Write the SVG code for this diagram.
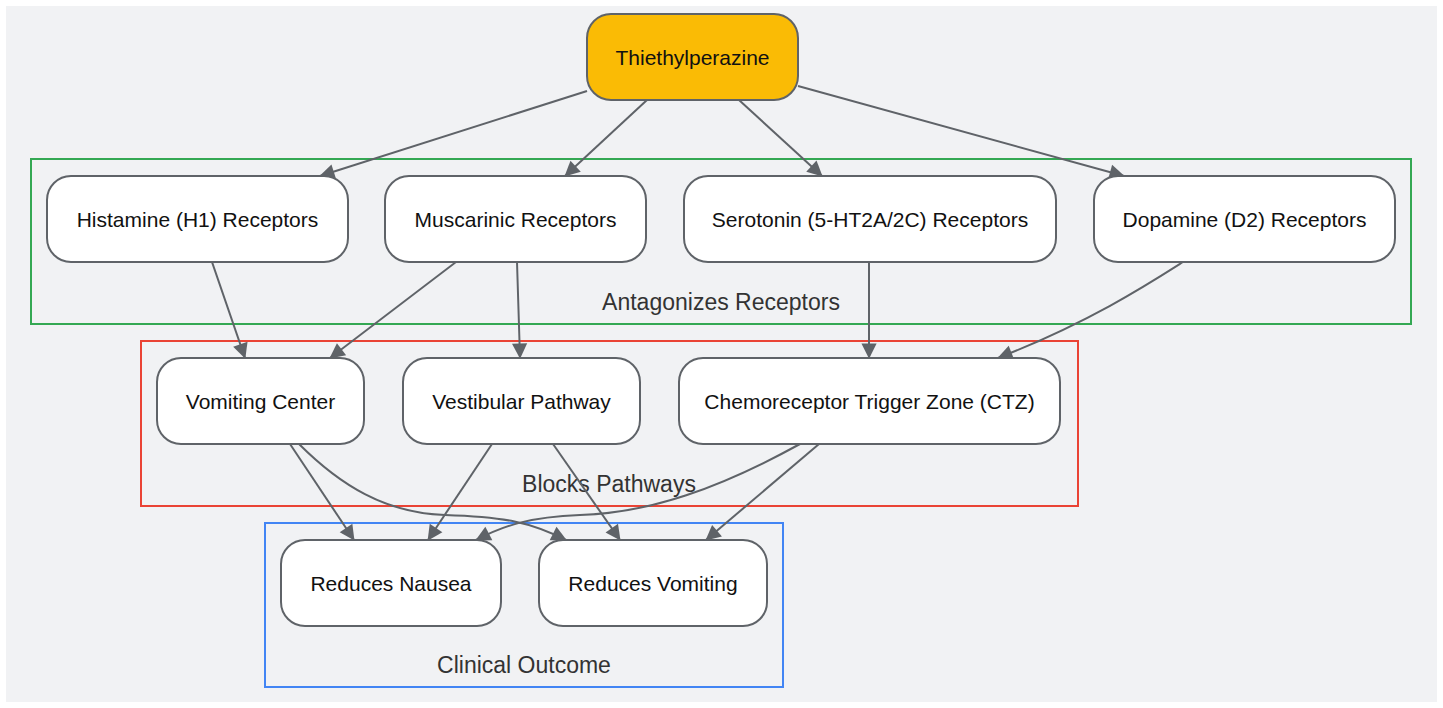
<svg xmlns="http://www.w3.org/2000/svg" width="1443" height="708" viewBox="0 0 1443 708">
<defs>
<style>
.node rect{fill:#ffffff;stroke:#5f6368;stroke-width:2}
.node text{font-family:"Liberation Sans",Arial,sans-serif;font-size:21px;fill:#111;text-anchor:middle;dominant-baseline:central}
.cl{fill:none;stroke-width:2}
.cltext{font-family:"Liberation Sans",Arial,sans-serif;font-size:23px;fill:#333;text-anchor:middle}
.edge{fill:none;stroke:#5f6368;stroke-width:2;marker-end:url(#arr)}
</style>
<marker id="arr" viewBox="0 0 10 10" refX="9.5" refY="5" markerWidth="8" markerHeight="8" markerUnits="userSpaceOnUse" orient="auto" overflow="visible">
<path d="M0,0 L10,5 L0,10 z" fill="#5f6368" transform="scale(1.9)translate(-4.5,-2.4)"/>
</marker>
</defs>
<rect x="0" y="0" width="1443" height="708" fill="#ffffff"/>
<rect x="6" y="6" width="1431" height="696" fill="#f1f2f4"/>
<g id="clusters">
<rect class="cl" x="31" y="159" width="1380" height="165" stroke="#34a853"/>
<text class="cltext" x="721" y="310">Antagonizes Receptors</text>
<rect class="cl" x="141" y="341" width="937" height="165" stroke="#ea4335"/>
<text class="cltext" x="609" y="492">Blocks Pathways</text>
<rect class="cl" x="265" y="523" width="518" height="164" stroke="#4285f4"/>
<text class="cltext" x="524" y="673">Clinical Outcome</text>
</g>
<g id="connectors">
<path class="edge" d="M587,91 L320,176"/>
<path class="edge" d="M647,100 L565,176"/>
<path class="edge" d="M739,100 L822,176"/>
<path class="edge" d="M798,86 L1124,176"/>
<path class="edge" d="M212,262 L245,358"/>
<path class="edge" d="M456,262 L330,358"/>
<path class="edge" d="M517,262 L520,358"/>
<path class="edge" d="M869,262 L869,358"/>
<path class="edge" d="M1183,262 C1150,283 1090,322 998,358"/>
<path class="edge" d="M290,444 L354,540"/>
<path class="edge" d="M299,444 C340,485 385,513 445,515 C505,517 530,522 566,540"/>
<path class="edge" d="M492,444 L428,540"/>
<path class="edge" d="M553,444 L620,540"/>
<path class="edge" d="M800,444 C720,488 650,513 580,515 C530,517 505,525 476,540"/>
<path class="edge" d="M819,444 L706,540"/>
</g>
<g id="thiethylperazine" class="node"><rect x="587" y="14" width="211" height="86" rx="24" style="fill:#fabb05"/><text x="692.5" y="57">Thiethylperazine</text></g>
<g id="histamine" class="node"><rect x="47" y="176" width="301" height="86" rx="24"/><text x="197.5" y="219">Histamine (H1) Receptors</text></g>
<g id="muscarinic" class="node"><rect x="385" y="176" width="261" height="86" rx="24"/><text x="515.5" y="219">Muscarinic Receptors</text></g>
<g id="serotonin" class="node"><rect x="684" y="176" width="372" height="86" rx="24"/><text x="870" y="219">Serotonin (5-HT2A/2C) Receptors</text></g>
<g id="dopamine" class="node"><rect x="1094" y="176" width="301" height="86" rx="24"/><text x="1244.5" y="219">Dopamine (D2) Receptors</text></g>
<g id="vomiting-center" class="node"><rect x="157" y="358" width="207" height="86" rx="24"/><text x="260.5" y="401">Vomiting Center</text></g>
<g id="vestibular" class="node"><rect x="403" y="358" width="237" height="86" rx="24"/><text x="521.5" y="401">Vestibular Pathway</text></g>
<g id="ctz" class="node"><rect x="679" y="358" width="381" height="86" rx="24"/><text x="869.5" y="401">Chemoreceptor Trigger Zone (CTZ)</text></g>
<g id="nausea" class="node"><rect x="281" y="540" width="220" height="86" rx="24"/><text x="391" y="583">Reduces Nausea</text></g>
<g id="vomiting" class="node"><rect x="539" y="540" width="228" height="86" rx="24"/><text x="653" y="583">Reduces Vomiting</text></g>
</svg>
